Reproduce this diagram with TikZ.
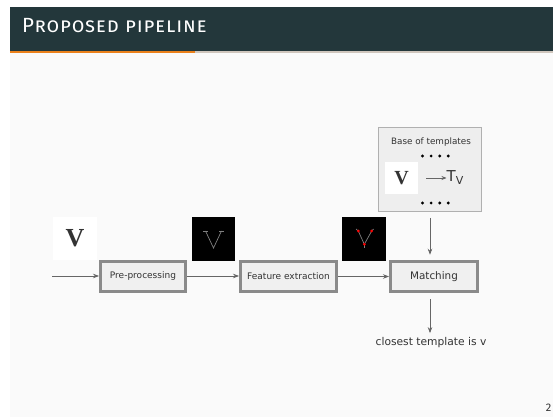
\documentclass[tikz,border=0pt]{standalone}
\usepackage{fontspec}
\setmainfont{DejaVu Sans}
\newfontfamily\firafont{Fira Sans}
\newfontfamily\vseriffont{Liberation Serif}
\usetikzlibrary{arrows.meta}
\definecolor{hdr}{HTML}{23373B}
\definecolor{mOrange}{HTML}{EB811B}
\definecolor{barbg}{HTML}{CFC6BD}
\definecolor{slidebg}{HTML}{FAFAFA}
\definecolor{boxfill}{HTML}{F0F0F0}
\definecolor{boxline}{HTML}{8A8A8A}
\definecolor{txt}{HTML}{333333}
\definecolor{tfill}{HTML}{EEEEEE}
\definecolor{tline}{HTML}{B0B0B0}
\definecolor{linegray}{HTML}{666666}
\begin{document}
\begin{tikzpicture}[x=1pt,y=-1pt,
  stagebox/.style={draw=boxline, line width=3pt, fill=boxfill, inner sep=0pt, text=txt, font=\fontsize{9}{9}\selectfont},
  arr/.style={draw=linegray, line width=0.8pt, -{Stealth[length=6pt,width=4.5pt,fill=black]}},
  whitev/.style={fill=white, inner sep=0pt, text=txt},
  blackimg/.style={fill=black, inner sep=0pt, minimum width=43.5pt, minimum height=43.5pt},
  tdot/.style={fill=black, inner sep=0pt, minimum size=3.2pt, circle}
]
\useasboundingbox (0,0) rectangle (554,417);
\fill[white] (0,0) rectangle (554,417);
\fill[slidebg] (10,7) rectangle (553,417);
\fill[hdr] (10,7) rectangle (553,51.5);
\fill[barbg] (10,51.5) rectangle (553,53);
\fill[mOrange] (10,51.5) rectangle (195,53);
\node[anchor=base west, inner sep=0pt, text=white, font=\firafont\fontsize{20.5}{20.5}\selectfont\scshape\addfontfeatures{LetterSpace=4}] (title) at (22,33) {Proposed pipeline};

% input V
\node[whitev, minimum width=44pt, minimum height=43pt, font=\vseriffont\bfseries\fontsize{26}{26}\selectfont] (vin) at (75,238.5) {V};

% stages
\node[stagebox, minimum width=85pt, minimum height=30pt] (pre) at (143,276) {Pre-processing};
\node[stagebox, minimum width=96pt, minimum height=29.5pt] (feat) at (288.5,276.5) {Feature extraction};
\node[stagebox, minimum width=87pt, minimum height=29.5pt, font=\fontsize{10.4}{10.4}\selectfont] (match) at (434,276.5) {Matching};

% images
\node[blackimg] (img1) at (213.5,239) {};
\draw[gray, line width=0.7pt] (205.5,231) -- (213.5,248) -- (221.5,231);
\draw[gray, line width=0.7pt] (203,231) -- (208,231) (219,231) -- (224,231);

\node[blackimg] (img2) at (364,239) {};
\draw[gray, line width=0.7pt] (356,229) -- (358.3,231) -- (364.3,244.3) -- (371.7,231) -- (373.7,229);
\draw[gray, line width=0.7pt] (364.3,244.3) -- (364.3,248);
\fill[red] (358.3,231) circle (1.5pt) (371.7,231) circle (1.5pt) (364.3,244.3) circle (1.5pt);

% template base
\node[draw=tline, line width=0.8pt, fill=tfill, minimum width=103pt, minimum height=84pt, inner sep=0pt] (tmpl) at (430,169.5) {};
\node[text=txt, font=\fontsize{8.8}{8.8}\selectfont, inner sep=0pt] (tbase) at (431,142) {Base of templates};
\foreach \i in {0,1,2,3} {
  \node[tdot] (da\i) at (422.5+8.6*\i,156) {};
  \node[tdot] (db\i) at (422.5+8.6*\i,203) {};
}
\node[whitev, minimum width=33pt, minimum height=32pt, font=\vseriffont\bfseries\fontsize{20}{20}\selectfont] (vt) at (401.5,178) {V};
\node[anchor=west, inner sep=0pt, text=txt, font=\fontsize{15}{15}\selectfont] (tv) at (446.5,178) {T\raisebox{-3pt}{\fontsize{11}{11}\selectfont V}};
\draw[draw=linegray, line width=0.8pt, -{Stealth[length=5pt,width=4pt,fill=black]}] ([xshift=8pt]vt.east) -- (tv.west);

% output text
\node[text=txt, font=\fontsize{10.7}{10.7}\selectfont, inner sep=0pt] (out) at (431,343) {closest template is v};

% connectors
\coordinate (start) at (52,276);
\draw[arr] (start) -- (pre.west);
\draw[arr] (pre.east) -- (feat.west |- pre.east);
\draw[arr] (feat.east) -- (match.west);
\draw[arr] ([yshift=-6pt]tmpl.south) -- ([yshift=5.5pt]tmpl.south |- match.north);
\draw[arr] ([yshift=-6.5pt]tmpl.south |- match.south) -- ([yshift=4.5pt]tmpl.south |- out.north);

% page number
\node[text=txt, font=\firafont\fontsize{11}{11}\selectfont, inner sep=0pt] (pnum) at (548.5,408) {2};
\end{tikzpicture}
\end{document}
